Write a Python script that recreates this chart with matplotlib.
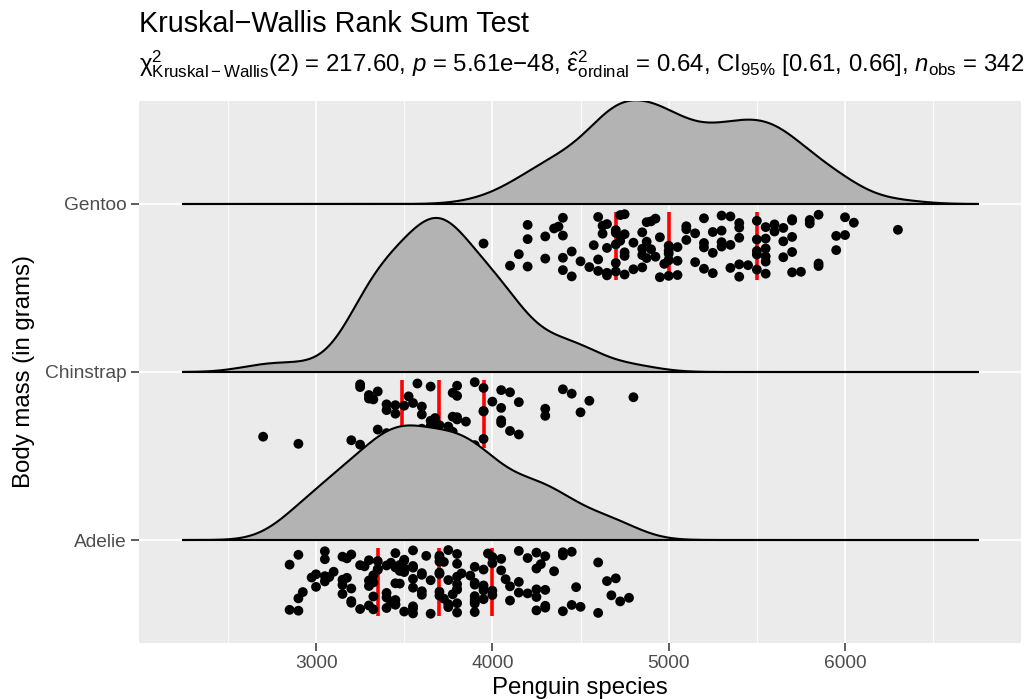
import numpy as np
import matplotlib
matplotlib.use("Agg")
import matplotlib.pyplot as plt

plt.rcParams['font.family'] = ['Liberation Sans', 'DejaVu Sans']
plt.rcParams['mathtext.fontset'] = 'custom'
plt.rcParams['mathtext.rm'] = 'Liberation Sans'
plt.rcParams['mathtext.it'] = 'Liberation Sans:italic'
plt.rcParams['mathtext.bf'] = 'Liberation Sans:bold'

# ---------------- data ----------------
species = ["Adelie", "Chinstrap", "Gentoo"]

adelie = [3750, 3800, 3250, 3450, 3650, 3625, 4675, 3475, 4250, 3300, 3700, 3200, 3800, 4400,
          3700, 3450, 4500, 3325, 4200, 3400, 3600, 3800, 3950, 3800, 3800, 3550, 3200, 3150,
          3950, 3250, 3900, 3300, 3900, 3325, 4150, 3950, 3550, 3300, 4650, 3150, 3900, 3100,
          4400, 3000, 4600, 3425, 2975, 3450, 4150, 3500, 4300, 3450, 4050, 2900, 3700, 3550,
          3800, 2850, 3750, 3150, 4400, 3600, 4050, 2850, 3950, 3350, 4100, 3050, 4450, 3600,
          3900, 3550, 4150, 3700, 4250, 3700, 3900, 3550, 4000, 3200, 4700, 3800, 4200, 3350,
          3550, 3800, 3500, 3950, 3600, 3550, 4300, 3400, 4450, 3300, 4300, 3700, 4350, 2900,
          4100, 3725, 4725, 3075, 4250, 2925, 3550, 3750, 3900, 3175, 4775, 3825, 4600, 3200,
          4275, 3900, 4075, 2900, 3775, 3350, 3325, 3150, 3500, 3450, 3875, 3050, 4000, 3275,
          4300, 3050, 4000, 3325, 3500, 3500, 4475, 3425, 3900, 3175, 3975, 3400, 4250, 3400,
          3475, 3050, 3725, 3000, 3650, 4250, 3475, 3450, 3750, 3700, 4000]

chinstrap = [3500, 3900, 3650, 3525, 3725, 3950, 3250, 3750, 4150, 3700, 3800, 3775, 3700, 4050,
             3575, 4050, 3300, 3700, 3450, 4400, 3600, 3400, 2900, 3800, 3300, 4150, 3400, 3800,
             3700, 4550, 3200, 4300, 3350, 4100, 3600, 3900, 3850, 4800, 2700, 4500, 3950, 3650,
             3550, 3500, 3675, 4450, 3400, 4300, 3250, 3675, 3325, 3950, 3600, 4050, 3350, 3450,
             3250, 4050, 3800, 3525, 3950, 3650, 3650, 4000, 3400, 3775, 4100, 3775]

gentoo = [4500, 5700, 4450, 5700, 5400, 4550, 4800, 5200, 4400, 5150, 4650, 5550, 4650, 5850,
          4200, 5850, 4150, 6300, 4800, 5350, 5700, 5000, 4400, 5050, 5000, 5100, 4100, 5650,
          4600, 5550, 5250, 4700, 5050, 6050, 5150, 5400, 4950, 5250, 4350, 5350, 3950, 5700,
          4300, 4750, 5550, 4900, 4200, 5400, 5100, 5300, 4850, 5300, 4400, 5000, 4900, 5050,
          4300, 5000, 4450, 5550, 4200, 5300, 4400, 5650, 4700, 5700, 4650, 5800, 4700, 5550,
          4750, 5000, 5100, 5200, 4700, 5800, 4600, 6000, 4750, 5950, 4625, 5450, 4725, 5350,
          4750, 5600, 4600, 5300, 4875, 5550, 4950, 5400, 4750, 5650, 4850, 5200, 4925, 4875,
          4625, 5250, 4850, 5600, 4975, 5500, 4725, 5500, 4700, 5500, 4575, 5500, 5000, 5950,
          4650, 5500, 4375, 5850, 4875, 6000, 4925, 4850, 5750, 5200, 5400]

x_ticks = [3000, 4000, 5000, 6000]
x_minor = [2500, 3500, 4500, 5500, 6500]

MINUS = "\u2212"
title = "Kruskal" + MINUS + "Wallis Rank Sum Test"
subtitle = ("$\\mathrm{\u03c7}^2_{\\mathrm{Kruskal" + MINUS + "Wallis}}\\mathrm{(2)}$ = 217.60, "
            "$p$ = 5.61e" + MINUS + "48, "
            "$\\hat{\\mathrm{\u03b5}}^2_{\\mathrm{ordinal}}$ = 0.64, CI$_{\\mathrm{95\\%}}$ [0.61, 0.66], "
            "$n_{\\mathrm{obs}}$ = 342")
x_label = "Penguin species"
y_label = "Body mass (in grams)"

groups = [adelie, chinstrap, gentoo]

# ---------------- figure ----------------
W, H = 1036, 699
fig = plt.figure(figsize=(W / 100, H / 100), dpi=100)
L, R, T, B = 139, 1021, 101, 643
ax = fig.add_axes([L / W, 1 - B / H, (R - L) / W, (B - T) / H])
ax.set_facecolor("#EBEBEB")
for s in ax.spines.values():
    s.set_visible(False)

ax.set_xlim(1996, 6998)
ax.set_ylim(0.387, 3.613)

for xv in x_minor:
    ax.axvline(xv, color="white", lw=0.6, zorder=0.5)
for xv in x_ticks:
    ax.axvline(xv, color="white", lw=1.2, zorder=0.6)
for yv in [1, 2, 3]:
    ax.axhline(yv, color="white", lw=1.2, zorder=0.6)

# joint bandwidth (mean of per-group nrd0)
def nrd0(v):
    v = np.asarray(v, float)
    sd = v.std(ddof=1)
    iqr = np.subtract(*np.percentile(v, [75, 25]))
    lo = min(sd, iqr / 1.34)
    return 0.9 * lo * len(v) ** -0.2

bw = np.mean([nrd0(g) for g in groups])
allv = np.concatenate([np.asarray(g, float) for g in groups])
grid = np.linspace(allv.min() - 3 * bw, allv.max() + 3 * bw, 512)

dens = []
for g in groups:
    v = np.asarray(g, float)
    d = np.exp(-0.5 * ((grid[:, None] - v[None, :]) / bw) ** 2).sum(1) / (len(v) * bw * np.sqrt(2 * np.pi))
    dens.append(d)
scale = 0.917 / max(d.max() for d in dens)

# draw top to bottom so lower ridges overlap upper ones
for k in [2, 1, 0]:
    base = k + 1
    z = 10 + (2 - k) * 5
    yy = base + dens[k] * scale
    ax.fill_between(grid, base, yy, facecolor="#B3B3B3", edgecolor="none", zorder=z)
    ax.plot(grid, yy, color="black", lw=1.5, zorder=z + 0.5, solid_capstyle="butt")
    ax.plot([grid[0], grid[-1]], [base, base], color="black", lw=1.5, zorder=z + 0.5,
            solid_capstyle="butt")
    v = np.asarray(groups[k], float)
    q = np.percentile(v, [25, 50, 75])
    for qq in q:
        ax.plot([qq, qq], [base - 0.05, base - 0.45], color="#FF0000", lw=2.6,
                zorder=z + 1, solid_capstyle="butt")
    n = len(v)
    jit = (np.arange(n) * 0.6180339887 + 0.37 * k) % 1.0
    ys = base - 0.06 - 0.38 * jit
    ax.scatter(v, ys, s=50, color="black", edgecolors="none", zorder=z + 2)

ax.set_xticks(x_ticks)
ax.set_xticklabels([str(t) for t in x_ticks])
ax.set_yticks([1, 2, 3])
ax.set_yticklabels(species)
ax.tick_params(axis="both", colors="#333333", length=5.5, width=1.1, labelsize=13.8,
               labelcolor="#4D4D4D", pad=3)

fig.text(L / W, 1 - 32 / H, title, fontsize=20.7, color="black", ha="left", va="baseline")
fig.text(L / W, 1 - 71 / H, subtitle, fontsize=17.3, color="black", ha="left", va="baseline")
fig.text((L + R) / 2 / W, 1 - 694 / H, x_label, fontsize=17.3, ha="center", va="baseline")
fig.text(24 / W, 1 - (T + B) / 2 / H, y_label, fontsize=17.3, rotation=90, ha="center",
         va="center")

fig.savefig("out.png", dpi=100)
